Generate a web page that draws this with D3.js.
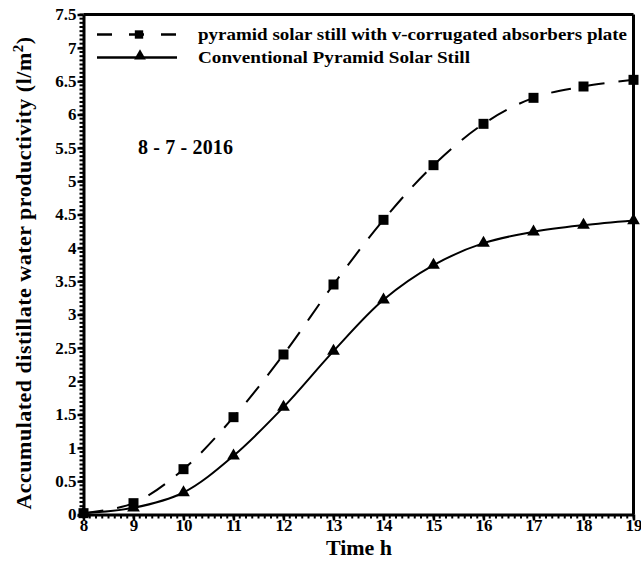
<!DOCTYPE html>
<html><head><meta charset="utf-8">
<script src="https://cdn.jsdelivr.net/npm/d3@7"></script>
<style>body{margin:0;background:#fff}svg{display:block}svg text{font-family:"Liberation Serif","Times New Roman",serif !important;font-weight:bold}</style>
</head><body>
<svg id="c" width="641" height="561"></svg>
<script>
const hours = [8, 9, 10, 11, 12, 13, 14, 15, 16, 17, 18, 19];
const corrugated = [0.02, 0.17, 0.68, 1.46, 2.4, 3.45, 4.42, 5.24, 5.86, 6.25, 6.42, 6.52];
const conventional = [0.02, 0.1, 0.33, 0.88, 1.61, 2.45, 3.22, 3.74, 4.07, 4.24, 4.34, 4.41];
const xTicks = [8, 9, 10, 11, 12, 13, 14, 15, 16, 17, 18, 19];
const yTicks = [0, 0.5, 1, 1.5, 2, 2.5, 3, 3.5, 4, 4.5, 5, 5.5, 6, 6.5, 7, 7.5];
const seriesNames = ["pyramid solar still with v-corrugated absorbers plate", "Conventional Pyramid Solar Still"];
const dateLabel = "8 - 7 - 2016";

const svg = d3.select("#c");
const x = d3.scaleLinear().domain([8, 19]).range([83.5, 633.5]);
const y = d3.scaleLinear().domain([0, 7.5]).range([514.5, 14.5]);

// frame top & right
svg.append("line").attr("x1", x(8)).attr("x2", x(19)).attr("y1", y(7.5)).attr("y2", y(7.5)).attr("stroke", "#000").attr("stroke-width", 3);
svg.append("line").attr("x1", x(19)).attr("x2", x(19)).attr("y1", y(7.5)).attr("y2", y(0)).attr("stroke", "#000").attr("stroke-width", 3);

// minor ticks
const xMinor = d3.range(8, 19.001, 1/8);
const yMinor = d3.range(0, 7.5001, 0.5/8);
svg.append("g").selectAll("line").data(xMinor).join("line")
  .attr("x1", d => x(d)).attr("x2", d => x(d)).attr("y1", y(0)).attr("y2", y(0) + 4)
  .attr("stroke", "#000").attr("stroke-width", 2);
svg.append("g").selectAll("line").data(yMinor).join("line")
  .attr("x1", x(8) - 4).attr("x2", x(8)).attr("y1", d => y(d)).attr("y2", d => y(d))
  .attr("stroke", "#000").attr("stroke-width", 2);

// axes
const xAxis = d3.axisBottom(x).tickValues(xTicks).tickFormat(d3.format("d")).tickSize(6).tickSizeOuter(0);
const gx = svg.append("g").attr("transform", `translate(0,${y(0)})`).call(xAxis).attr("font-family", null);
gx.select(".domain").attr("stroke-width", 3);
gx.selectAll(".tick line").attr("stroke-width", 2.5);
gx.selectAll(".tick text").attr("font-size", 17).attr("dy", "0.45em").attr("fill", "#000");

const yAxis = d3.axisLeft(y).tickValues(yTicks).tickFormat(d => String(d)).tickSize(6).tickSizeOuter(0);
const gy = svg.append("g").attr("transform", `translate(${x(8)},0)`).call(yAxis).attr("font-family", null);
gy.select(".domain").attr("stroke-width", 3);
gy.selectAll(".tick line").attr("stroke-width", 2.5);
gy.selectAll(".tick text").attr("font-size", 17).attr("x", -7).attr("fill", "#000");

// lines
const line = d3.line().x(d => x(d[0])).y(d => y(d[1])).curve(d3.curveCatmullRom.alpha(0.5));
const s1 = hours.map((h, i) => [h, corrugated[i]]);
const s2 = hours.map((h, i) => [h, conventional[i]]);
svg.append("path").attr("d", line(s1)).attr("fill", "none").attr("stroke", "#000").attr("stroke-width", 2).attr("stroke-dasharray", "20,14");
svg.append("path").attr("d", line(s2)).attr("fill", "none").attr("stroke", "#000").attr("stroke-width", 2);

// markers
const sq = d3.symbol().type(d3.symbolSquare).size(100);
const tri = d3.symbol().type(d3.symbolTriangle).size(70);
svg.append("g").selectAll("path").data(s1).join("path")
  .attr("d", sq).attr("transform", d => `translate(${x(d[0])},${y(d[1])})`).attr("fill", "#000");
svg.append("g").selectAll("path").data(s2).join("path")
  .attr("d", tri).attr("transform", d => `translate(${x(d[0])},${y(d[1])})`).attr("fill", "#000");

// legend
const lg = svg.append("g");
lg.append("line").attr("x1", 97).attr("x2", 177).attr("y1", 34.5).attr("y2", 34.5).attr("stroke", "#000").attr("stroke-width", 2.5).attr("stroke-dasharray", "15,17");
lg.append("path").attr("d", d3.symbol().type(d3.symbolSquare).size(70)).attr("transform", "translate(139,34.5)");
lg.append("line").attr("x1", 97).attr("x2", 177).attr("y1", 57.5).attr("y2", 57.5).attr("stroke", "#000").attr("stroke-width", 2.5);
lg.append("path").attr("d", d3.symbol().type(d3.symbolTriangle).size(60)).attr("transform", "translate(140,56)");
lg.append("text").attr("x", 198).attr("y", 40).attr("font-size", 17.5).attr("textLength", 429).attr("lengthAdjust", "spacingAndGlyphs").text(seriesNames[0]);
lg.append("text").attr("x", 198).attr("y", 63).attr("font-size", 17.5).attr("textLength", 272).attr("lengthAdjust", "spacingAndGlyphs").text(seriesNames[1]);

// date
svg.append("text").attr("x", 138).attr("y", 154).attr("font-size", 20).attr("textLength", 95).text(dateLabel);

// axis titles
svg.append("text").attr("x", 359).attr("y", 555).attr("text-anchor", "middle").attr("font-size", 22).text("Time h");
const yt = svg.append("text").attr("transform", "translate(31,273) rotate(-90)").attr("text-anchor", "middle").attr("font-size", 22);
yt.append("tspan").text("Accumulated distillate water productivity (l/m");
yt.append("tspan").attr("dy", -8).attr("font-size", 15).text("2");
yt.append("tspan").attr("dy", 8).text(")");
const cur = yt.node().getComputedTextLength();
const nch = yt.text().length;
yt.attr("letter-spacing", ((473 - cur) / nch).toFixed(2) + "px");
</script>
</body></html>
